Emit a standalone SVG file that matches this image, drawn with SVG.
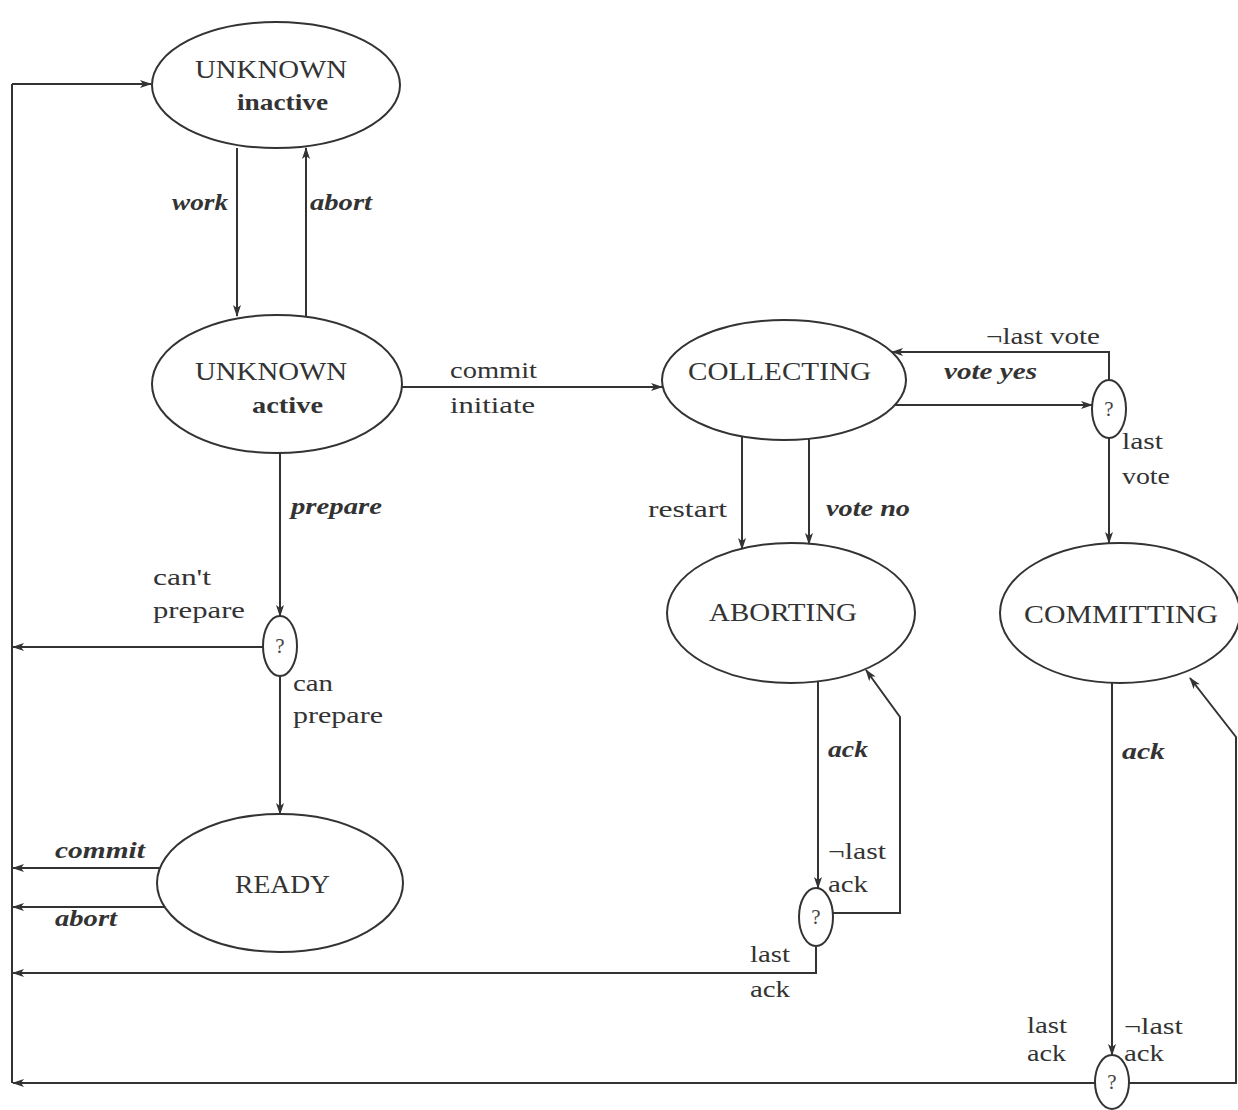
<svg xmlns="http://www.w3.org/2000/svg" width="1238" height="1110" viewBox="0 0 1238 1110">
<style>
.bg{fill:#fff}
.node ellipse{fill:none;stroke:#333;stroke-width:2}
.st{font-family:"Liberation Serif",serif;font-size:26px;fill:#333}
.sb{font-family:"Liberation Serif",serif;font-size:24px;font-weight:bold;fill:#333}
.q{font-family:"Liberation Serif",serif;font-size:21px;fill:#444;text-anchor:middle}
.lb{font-family:"Liberation Serif",serif;font-size:24px;fill:#333}
.it{font-family:"Liberation Serif",serif;font-size:23px;font-style:italic;font-weight:bold;fill:#333}
.edges path{fill:none;stroke:#333;stroke-width:2}
</style>
<defs>
<marker id="ah" viewBox="0 0 12 8" markerWidth="12" markerHeight="8" refX="11" refY="4" orient="auto" markerUnits="userSpaceOnUse">
<path d="M0,0 L12,4 L0,8 L3,4 z" fill="#333"/>
</marker>
</defs>
<rect class="bg" width="1238" height="1110"/>

<g class="edges">
<path d="M12,84 L12,1083"/>
<path d="M12,84 L151,84" marker-end="url(#ah)"/>
<path d="M237,148 L237,316" marker-end="url(#ah)"/>
<path d="M306,316 L306,148" marker-end="url(#ah)"/>
<path d="M402,387 L662,387" marker-end="url(#ah)"/>
<path d="M280,453 L280,616" marker-end="url(#ah)"/>
<path d="M263,647 L13,647" marker-end="url(#ah)"/>
<path d="M280,676 L280,814" marker-end="url(#ah)"/>
<path d="M160,868 L13,868" marker-end="url(#ah)"/>
<path d="M165,907 L13,907" marker-end="url(#ah)"/>
<path d="M742,437 L742,549" marker-end="url(#ah)"/>
<path d="M809,439 L809,544" marker-end="url(#ah)"/>
<path d="M895,405 L1092,405" marker-end="url(#ah)"/>
<path d="M1109,380 L1109,352 L892,352" marker-end="url(#ah)"/>
<path d="M1109,438 L1109,543" marker-end="url(#ah)"/>
<path d="M818,682 L818,888" marker-end="url(#ah)"/>
<path d="M833,913 L900,913 L900,717 L866,670" marker-end="url(#ah)"/>
<path d="M816,947 L816,973 L13,973" marker-end="url(#ah)"/>
<path d="M1112,683 L1112,1055" marker-end="url(#ah)"/>
<path d="M1095,1083 L13,1083" marker-end="url(#ah)"/>
<path d="M1129,1083 L1236,1083 L1236,737 L1190,678" marker-end="url(#ah)"/>
</g>

<g class="labels">
<text class="it" x="172" y="210" textLength="56" lengthAdjust="spacingAndGlyphs">work</text>
<text class="it" x="310" y="210" textLength="62" lengthAdjust="spacingAndGlyphs">abort</text>
<text class="lb" x="450" y="378" textLength="87" lengthAdjust="spacingAndGlyphs">commit</text>
<text class="lb" x="450" y="413" textLength="85" lengthAdjust="spacingAndGlyphs">initiate</text>
<text class="it" x="291" y="514" textLength="91" lengthAdjust="spacingAndGlyphs">prepare</text>
<text class="lb" x="153" y="585" textLength="58" lengthAdjust="spacingAndGlyphs">can't</text>
<text class="lb" x="153" y="618" textLength="92" lengthAdjust="spacingAndGlyphs">prepare</text>
<text class="lb" x="293" y="691" textLength="40" lengthAdjust="spacingAndGlyphs">can</text>
<text class="lb" x="293" y="723" textLength="90" lengthAdjust="spacingAndGlyphs">prepare</text>
<text class="it" x="55" y="858" textLength="90" lengthAdjust="spacingAndGlyphs">commit</text>
<text class="it" x="55" y="926" textLength="62" lengthAdjust="spacingAndGlyphs">abort</text>
<text class="lb" x="648" y="517" textLength="79" lengthAdjust="spacingAndGlyphs">restart</text>
<text class="it" x="826" y="516" textLength="84" lengthAdjust="spacingAndGlyphs">vote no</text>
<text class="lb" x="986" y="344" textLength="114" lengthAdjust="spacingAndGlyphs">¬last vote</text>
<text class="it" x="944" y="379" textLength="93" lengthAdjust="spacingAndGlyphs">vote yes</text>
<text class="lb" x="1122" y="449" textLength="41" lengthAdjust="spacingAndGlyphs">last</text>
<text class="lb" x="1122" y="484" textLength="48" lengthAdjust="spacingAndGlyphs">vote</text>
<text class="it" x="828" y="757" textLength="40" lengthAdjust="spacingAndGlyphs">ack</text>
<text class="lb" x="828" y="859" textLength="58" lengthAdjust="spacingAndGlyphs">¬last</text>
<text class="lb" x="828" y="892" textLength="40" lengthAdjust="spacingAndGlyphs">ack</text>
<text class="lb" x="750" y="962" textLength="40" lengthAdjust="spacingAndGlyphs">last</text>
<text class="lb" x="750" y="997" textLength="40" lengthAdjust="spacingAndGlyphs">ack</text>
<text class="it" x="1122" y="759" textLength="43" lengthAdjust="spacingAndGlyphs">ack</text>
<text class="lb" x="1027" y="1033" textLength="40" lengthAdjust="spacingAndGlyphs">last</text>
<text class="lb" x="1027" y="1061" textLength="39" lengthAdjust="spacingAndGlyphs">ack</text>
<text class="lb" x="1124" y="1034" textLength="59" lengthAdjust="spacingAndGlyphs">¬last</text>
<text class="lb" x="1124" y="1061" textLength="40" lengthAdjust="spacingAndGlyphs">ack</text>
</g>

<g id="unknown-inactive" class="node">
<ellipse cx="276" cy="85" rx="124" ry="63"/>
<text class="st" x="195" y="78" textLength="152" lengthAdjust="spacingAndGlyphs">UNKNOWN</text>
<text class="sb" x="237" y="110" textLength="91" lengthAdjust="spacingAndGlyphs">inactive</text>
</g>
<g id="unknown-active" class="node">
<ellipse cx="277" cy="384" rx="125" ry="69"/>
<text class="st" x="195" y="380" textLength="152" lengthAdjust="spacingAndGlyphs">UNKNOWN</text>
<text class="sb" x="252" y="413" textLength="71" lengthAdjust="spacingAndGlyphs">active</text>
</g>
<g id="collecting" class="node">
<ellipse cx="784" cy="380" rx="122" ry="60"/>
<text class="st" x="688" y="380" textLength="183" lengthAdjust="spacingAndGlyphs">COLLECTING</text>
</g>
<g id="aborting" class="node">
<ellipse cx="791" cy="613" rx="124" ry="70"/>
<text class="st" x="709" y="621" textLength="148" lengthAdjust="spacingAndGlyphs">ABORTING</text>
</g>
<g id="committing" class="node">
<ellipse cx="1120" cy="613" rx="120" ry="70"/>
<text class="st" x="1024" y="623" textLength="194" lengthAdjust="spacingAndGlyphs">COMMITTING</text>
</g>
<g id="ready" class="node">
<ellipse cx="280" cy="883" rx="123" ry="69"/>
<text class="st" x="235" y="893" textLength="95" lengthAdjust="spacingAndGlyphs">READY</text>
</g>
<g id="q-prepare" class="node">
<ellipse cx="280" cy="646" rx="17" ry="30"/>
<text class="q" x="280" y="653">?</text>
</g>
<g id="q-vote" class="node">
<ellipse cx="1109" cy="409" rx="17" ry="29"/>
<text class="q" x="1109" y="416">?</text>
</g>
<g id="q-abort-ack" class="node">
<ellipse cx="816" cy="917" rx="17" ry="29"/>
<text class="q" x="816" y="924">?</text>
</g>
<g id="q-commit-ack" class="node">
<ellipse cx="1112" cy="1082" rx="17" ry="27"/>
<text class="q" x="1112" y="1089">?</text>
</g>
</svg>
